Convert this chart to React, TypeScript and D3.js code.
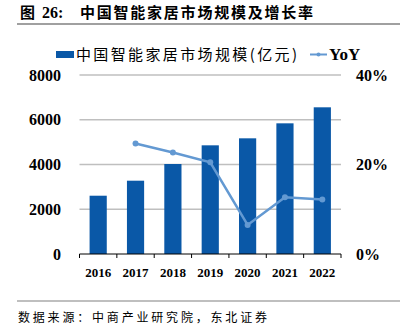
import React from "react";
import * as d3 from "d3";

const years = ["2016", "2017", "2018", "2019", "2020", "2021", "2022"];
const marketSize = [2605, 3276, 4022, 4857, 5170, 5840, 6556];
const yoy = [null, 24.7, 22.7, 20.5, 6.5, 12.7, 12.2];
const leftTicks = [0, 2000, 4000, 6000, 8000];
const rightTicks = [0, 20, 40];
const gridTicks = [0, 2000, 4000, 6000, 8000];

const titleFig = "图";
const titleNum = "26:";
const titleText = "中国智能家居市场规模及增长率";
const legendBar = "中国智能家居市场规模(亿元)";
const legendLine = "YoY";
const source = "数据来源：中商产业研究院，东北证券";

const BAR = "#0a58a7";
const LINE = "#6399d2";
const SERIF = "'Liberation Serif', 'Times New Roman', serif";
const CJK = "'Noto Sans CJK SC', sans-serif";

export default function App() {
  const W = 405, H = 325;
  const left = 79.5, right = 341, top = 75, bottom = 254;
  const x = d3.scaleBand<string>().domain(years).range([left, right]).paddingInner(0.54).paddingOuter(0.27);
  const xOuter = d3.scaleBand<string>().domain(years).range([left, right]);
  const yL = d3.scaleLinear().domain([0, 8000]).range([bottom, top]);
  const yR = d3.scaleLinear().domain([0, 40]).range([bottom, top]);

  const linePts = years
    .map((yr, i) => ({ yr, v: yoy[i] }))
    .filter((d) => d.v !== null) as { yr: string; v: number }[];
  const lineGen = d3
    .line<{ yr: string; v: number }>()
    .x((d) => (x(d.yr) as number) + x.bandwidth() / 2)
    .y((d) => yR(d.v));

  const boundaries = [...years.map((yr) => xOuter(yr) as number), right];

  return (
    <svg width={W} height={H} style={{ position: "absolute", left: 0, top: 0, background: "#fff" }}>
      <text x={20} y={18} fontSize={15} fontWeight="bold" fontFamily={CJK} fill="#000">
        {titleFig}
      </text>
      <text x={42} y={18} fontSize={16} fontWeight="bold" fontFamily={SERIF} fill="#000">
        {titleNum}
      </text>
      <text x={80} y={18} fontSize={15} fontWeight="bold" fontFamily={CJK} fill="#000" textLength={233} lengthAdjust="spacing">
        {titleText}
      </text>
      <line x1={17} x2={400} y1={24} y2={24} stroke="#808080" strokeWidth={1.5} />

      {/* legend */}
      <rect x={56} y={51} width={18} height={7} fill={BAR} />
      <text x={76} y={60} fontSize={15} fontFamily={CJK} fill="#000" textLength={221} lengthAdjust="spacing">
        {legendBar}
      </text>
      <line x1={310} x2={327} y1={54.5} y2={54.5} stroke={LINE} strokeWidth={2} />
      <circle cx={318.5} cy={54.5} r={2} fill={LINE} />
      <text x={329} y={60} fontSize={17} fontWeight="bold" fontFamily={SERIF} fill="#000">
        {legendLine}
      </text>

      {/* grid */}
      {gridTicks.slice(1).map((t) => (
        <line key={t} x1={left} x2={right} y1={yL(t)} y2={yL(t)} stroke="#bfbfbf" strokeWidth={1.3} />
      ))}

      {/* bars */}
      {years.map((yr, i) => (
        <rect
          key={yr}
          x={x(yr)}
          y={yL(marketSize[i])}
          width={x.bandwidth()}
          height={bottom - yL(marketSize[i])}
          fill={BAR}
        />
      ))}

      {/* axis */}
      <line x1={left} x2={right} y1={bottom} y2={bottom} stroke="#000" strokeWidth={1} />
      {boundaries.map((b, i) => (
        <line key={i} x1={b} x2={b} y1={bottom} y2={bottom + 4} stroke="#000" strokeWidth={1} />
      ))}

      {/* YoY line */}
      <path d={lineGen(linePts) || ""} fill="none" stroke={LINE} strokeWidth={2.5} />
      {linePts.map((d) => (
        <circle key={d.yr} cx={(x(d.yr) as number) + x.bandwidth() / 2} cy={yR(d.v)} r={3} fill={LINE} />
      ))}

      {/* left ticks */}
      {leftTicks.map((t) => (
        <text key={t} x={61} y={yL(t) + 5.5} textAnchor="end" fontSize={16} fontWeight="bold" fontFamily={SERIF} fill="#000">
          {t}
        </text>
      ))}
      {/* right ticks */}
      {rightTicks.map((t) => (
        <text key={t} x={356} y={yR(t) + 5.5} fontSize={16} fontWeight="bold" fontFamily={SERIF} fill="#000">
          {t + "%"}
        </text>
      ))}
      {/* x labels */}
      {years.map((yr) => (
        <text
          key={yr}
          x={(x(yr) as number) + x.bandwidth() / 2}
          y={277}
          textAnchor="middle"
          fontSize={13}
          fontWeight="bold"
          fontFamily={SERIF}
          fill="#000"
        >
          {yr}
        </text>
      ))}

      <line x1={17} x2={400} y1={301} y2={301} stroke="#808080" strokeWidth={1.2} />
      <text x={18} y={322} fontSize={12} fontFamily={CJK} fill="#000" textLength={249} lengthAdjust="spacing">
        {source}
      </text>
    </svg>
  );
}
